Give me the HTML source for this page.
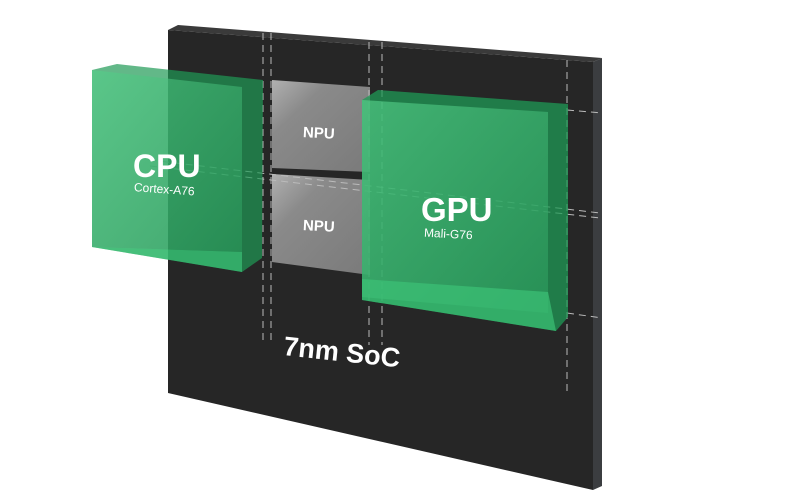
<!DOCTYPE html>
<html><head><meta charset="utf-8"><style>
html,body{margin:0;padding:0;background:#fff;width:785px;height:500px;overflow:hidden}
</style></head><body>
<svg width="785" height="500" viewBox="0 0 785 500" xmlns="http://www.w3.org/2000/svg" font-family="Liberation Sans, sans-serif">
<defs>
<linearGradient id="g1" x1="0" y1="0" x2="1" y2="1"><stop offset="0" stop-color="#55d08a"/><stop offset="1" stop-color="#2b9a5c"/></linearGradient>
<linearGradient id="npu" x1="0" y1="0" x2="1" y2="1"><stop offset="0" stop-color="#b0b0b0"/><stop offset="0.3" stop-color="#8a8a8a"/><stop offset="1" stop-color="#7a7a7a"/></linearGradient>
</defs>
<polygon points="168,30 178,25 602,58 593,62" fill="#3a3a3a"/>
<polygon points="593,62 602,58 602,486 593,490" fill="#3b3d40"/>
<polygon points="168,30 593,62 593,490 168,393" fill="#262626"/>
<polygon points="272,80 370,87 370,172 272,168" fill="url(#npu)"/>
<polygon points="272,174 370,180 370,275 272,262" fill="url(#npu)"/>
<text x="303" y="138" fill="#fff" font-size="15" font-weight="bold" transform="rotate(3 320 133)">NPU</text>
<text x="303" y="231" fill="#fff" font-size="15" font-weight="bold" transform="rotate(3 320 226)">NPU</text>
<g stroke="#bbb" stroke-width="1" stroke-dasharray="7,5" fill="none">
<line x1="263" y1="33" x2="263" y2="345"/><line x1="271" y1="33" x2="271" y2="345"/>
<line x1="369" y1="42" x2="369" y2="345"/><line x1="382" y1="42" x2="382" y2="345"/>
<line x1="567" y1="60" x2="567" y2="395"/>
<line x1="150" y1="160" x2="600" y2="213"/><line x1="150" y1="166" x2="600" y2="218"/>
<line x1="567" y1="110" x2="602" y2="113"/><line x1="567" y1="313" x2="602" y2="318"/>
</g>
<polygon points="92,70 117,64 263,80 262,258 242,272 92,247" fill="#1f9a55" opacity="0.7"/>
<polygon points="92,70 242,87 242,252 92,247" fill="url(#g1)" opacity="0.6"/>
<polygon points="92,247 242,252 242,272" fill="#3cc276" opacity="0.7"/>
<text x="133" y="177" fill="#fff" font-size="32" font-weight="bold">CPU</text>
<text x="134" y="193" fill="#fff" font-size="12" transform="rotate(4 160 189)">Cortex-A76</text>
<polygon points="362,100 378,90 568,104 568,317 556,331 362,300" fill="#1f9a55" opacity="0.75"/>
<polygon points="362,100 548,112 548,313 362,297" fill="url(#g1)" opacity="0.65"/>
<polygon points="362,279 548,292 556,331 362,300" fill="#3cc276" opacity="0.7"/>
<text x="421" y="221" fill="#fff" font-size="33" font-weight="bold">GPU</text>
<text x="424" y="238" fill="#fff" font-size="12" transform="rotate(3 450 234)">Mali-G76</text>
<text x="283" y="360" fill="#fff" font-size="27" font-weight="bold" transform="rotate(6 330 355)">7nm SoC</text>
</svg>
</body></html>
